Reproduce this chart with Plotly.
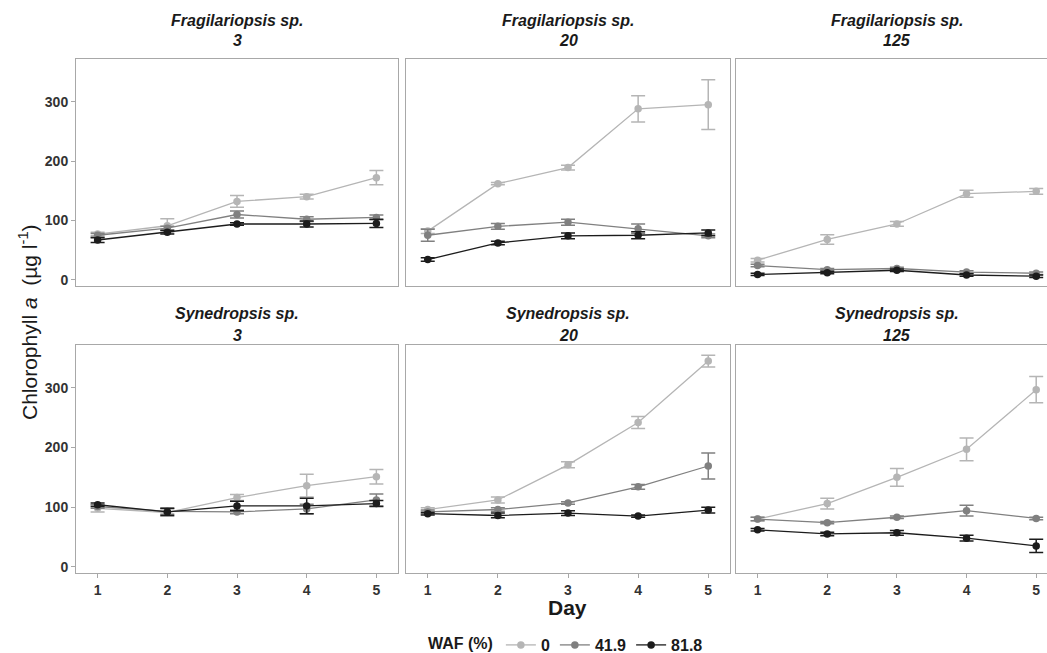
import plotly.graph_objects as go

days = [1, 2, 3, 4, 5]
waf_levels = ["0", "41.9", "81.8"]
colors = ["#b5b5b5", "#808080", "#1c1c1c"]

species = ["Fragilariopsis sp.", "Synedropsis sp."]
conc = ["3", "20", "125"]

# Fragilariopsis sp.
frag3_0 = [77, 91, 132, 140, 172]
frag3_0_err = [3, 12, 10, 4, 12]
frag3_419 = [75, 87, 110, 102, 105]
frag3_419_err = [3, 3, 6, 4, 4]
frag3_818 = [67, 80, 94, 94, 95]
frag3_818_err = [4, 3, 2, 5, 7]

frag20_0 = [82, 162, 189, 288, 295]
frag20_0_err = [4, 2, 4, 22, 42]
frag20_419 = [75, 90, 97, 86, 74]
frag20_419_err = [10, 5, 5, 8, 3]
frag20_818 = [34, 62, 74, 75, 79]
frag20_818_err = [3, 3, 5, 6, 5]

frag125_0 = [33, 68, 94, 145, 149]
frag125_0_err = [3, 8, 4, 6, 5]
frag125_419 = [24, 17, 19, 13, 11]
frag125_419_err = [2, 2, 2, 2, 2]
frag125_818 = [9, 12, 16, 8, 6]
frag125_818_err = [2, 2, 2, 2, 2]

# Synedropsis sp.
syn3_0 = [98, 91, 116, 136, 151]
syn3_0_err = [6, 6, 5, 19, 12]
syn3_419 = [101, 93, 92, 97, 112]
syn3_419_err = [3, 5, 3, 8, 10]
syn3_818 = [104, 92, 102, 102, 106]
syn3_818_err = [3, 6, 8, 13, 5]

syn20_0 = [96, 112, 171, 242, 345]
syn20_0_err = [3, 5, 5, 10, 10]
syn20_419 = [92, 96, 107, 134, 169]
syn20_419_err = [3, 3, 2, 4, 22]
syn20_818 = [89, 86, 90, 85, 95]
syn20_818_err = [2, 4, 4, 2, 5]

syn125_0 = [80, 106, 150, 197, 297]
syn125_0_err = [3, 9, 15, 19, 22]
syn125_419 = [80, 74, 83, 94, 81]
syn125_419_err = [3, 2, 2, 9, 2]
syn125_818 = [62, 55, 57, 48, 35]
syn125_818_err = [2, 3, 4, 5, 11]

panels = [
    [(frag3_0, frag3_0_err), (frag3_419, frag3_419_err), (frag3_818, frag3_818_err)],
    [(frag20_0, frag20_0_err), (frag20_419, frag20_419_err), (frag20_818, frag20_818_err)],
    [(frag125_0, frag125_0_err), (frag125_419, frag125_419_err), (frag125_818, frag125_818_err)],
    [(syn3_0, syn3_0_err), (syn3_419, syn3_419_err), (syn3_818, syn3_818_err)],
    [(syn20_0, syn20_0_err), (syn20_419, syn20_419_err), (syn20_818, syn20_818_err)],
    [(syn125_0, syn125_0_err), (syn125_419, syn125_419_err), (syn125_818, syn125_818_err)],
]

W, H = 1047, 653
FONT = "Liberation Sans, Arial, sans-serif"
TICK_COLOR = "#333333"
BORDER = "#a8a8a8"

col_px = [(76, 398), (406, 730), (736, 1047)]
row_px = [(59, 286), (345, 573)]
xranges = [[0.69, 5.31], [0.69, 5.31], [0.69, 5.155]]
yrange = [-10.5, 372]

fig = go.Figure()
layout = dict(
    width=W, height=H,
    margin=dict(l=0, r=0, t=0, b=0, autoexpand=False),
    paper_bgcolor="white", plot_bgcolor="white",
    showlegend=True,
    font=dict(family=FONT, color=TICK_COLOR),
)

for p in range(6):
    r, c = divmod(p, 3)
    idx = p + 1
    xa = "x" if idx == 1 else f"x{idx}"
    ya = "y" if idx == 1 else f"y{idx}"
    for k, (vals, errs) in enumerate(panels[p]):
        fig.add_trace(go.Scatter(
            x=days, y=vals,
            mode="lines+markers",
            line=dict(color=colors[k], width=1.3),
            marker=dict(color=colors[k], size=7.5),
            error_y=dict(type="data", array=errs, visible=True,
                         color=colors[k], thickness=1.5, width=7),
            name=waf_levels[k], legendgroup=waf_levels[k],
            showlegend=(p == 0),
            xaxis=xa, yaxis=ya,
        ))
    x0, x1 = col_px[c]
    yt, yb = row_px[r]
    xkey = "xaxis" if idx == 1 else f"xaxis{idx}"
    ykey = "yaxis" if idx == 1 else f"yaxis{idx}"
    layout[xkey] = dict(
        domain=[x0 / W, x1 / W], range=xranges[c], anchor=ya,
        tickvals=days, ticktext=[str(d) for d in days],
        showticklabels=(r == 1), ticks="outside" if r == 1 else "",
        ticklen=4, tickcolor=BORDER, tickwidth=1,
        showline=True, mirror=True, linecolor=BORDER, linewidth=1,
        showgrid=False, zeroline=False, automargin=False,
        tickfont=dict(family=FONT, size=14, color=TICK_COLOR, weight="bold"),
    )
    layout[ykey] = dict(
        domain=[1 - yb / H, 1 - yt / H], range=yrange, anchor=xa,
        tickvals=[0, 100, 200, 300],
        showticklabels=(c == 0), ticks="outside" if c == 0 else "",
        ticklen=4, tickcolor=BORDER, tickwidth=1,
        showline=True, mirror=(c != 2), linecolor=BORDER, linewidth=1,
        showgrid=False, zeroline=False, automargin=False,
        tickfont=dict(family=FONT, size=14, color=TICK_COLOR, weight="bold"),
    )

annotations = []
strip_y = [(20, 41), (313, 335)]
for r in range(2):
    for c in range(3):
        x0, x1 = col_px[c]
        xc = (x0 + x0 + 322) / 2 if c == 2 else (x0 + x1) / 2
        for line_i, txt in enumerate([species[r], conc[c]]):
            annotations.append(dict(
                x=xc / W, y=1 - strip_y[r][line_i] / H, xref="paper", yref="paper",
                text=f"<b><i>{txt}</i></b>", showarrow=False,
                xanchor="center", yanchor="middle",
                font=dict(family=FONT, size=16, color="#1a1a1a"),
            ))

annotations.append(dict(
    x=28 / W, y=1 - 322 / H, xref="paper", yref="paper",
    text="Chlorophyll <i>a</i>  (µg l<sup>-1</sup>)", textangle=-90,
    showarrow=False, xanchor="center", yanchor="middle",
    font=dict(family=FONT, size=21, color="#1a1a1a"),
))
annotations.append(dict(
    x=567 / W, y=1 - 607 / H, xref="paper", yref="paper",
    text="<b>Day</b>", showarrow=False, xanchor="center", yanchor="middle",
    font=dict(family=FONT, size=21, color="#1a1a1a"),
))
layout["annotations"] = annotations

layout["legend"] = dict(
    orientation="h", x=567 / W, xanchor="center", y=1 - 645 / H, yanchor="middle",
    title=dict(text="<b>WAF (%)</b>", side="left",
               font=dict(family=FONT, size=16, color="#1a1a1a")),
    font=dict(family=FONT, size=16, color="#1a1a1a", weight="bold"),
    itemwidth=30, bgcolor="rgba(0,0,0,0)",
)

fig.update_layout(**layout)
fig.write_html("out.html")
